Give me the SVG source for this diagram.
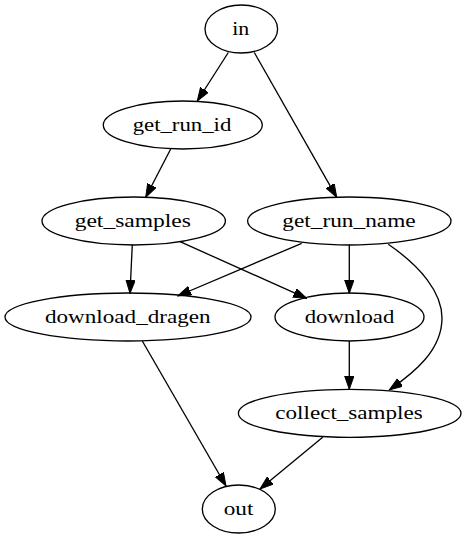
<svg xmlns="http://www.w3.org/2000/svg" width="466" height="539" viewBox="0 0 466 539">
<style>
.n ellipse{fill:none;stroke:#000;stroke-width:1.33}
.n text{font-family:'Liberation Serif','DejaVu Serif','Times New Roman',Times,serif;font-size:19px;text-anchor:middle;fill:#000}
.e path{fill:none;stroke:#000;stroke-width:1.33;marker-end:url(#ah)}
</style>
<defs>
<marker id="ah" markerUnits="userSpaceOnUse" markerWidth="14" markerHeight="10" refX="13.3" refY="4.67" orient="auto" viewBox="0 0 14 10">
<path d="M0,0 L13.3,4.67 L0,9.33 z" fill="#000" stroke="#000" stroke-width="1"/>
</marker>
</defs>
<rect width="466" height="539" fill="#fff"/>
<g id="edges" class="e">
<path d="M228.3,52.5 L197.3,101"/>
<path d="M254.3,52.5 L336.7,197.3"/>
<path d="M170.7,149 L145.7,197.3"/>
<path d="M132.3,244.5 L130,293.3"/>
<path d="M180,241.7 L306.7,298.3"/>
<path d="M301.7,243.3 L177.7,296"/>
<path d="M349.3,244.5 L349.3,293.3"/>
<path d="M388.3,244.3 C420,266 442,292 442,318 C442,350 415,372 389.3,390"/>
<path d="M349.3,341 L349.3,389.3"/>
<path d="M142.3,341 L226,486"/>
<path d="M322.7,437.3 L260,489"/>
</g>
<g id="in" class="n"><ellipse cx="241.3" cy="29" rx="36.3" ry="24"/><text x="240.8" y="35" textLength="17" lengthAdjust="spacingAndGlyphs">in</text></g>
<g id="get_run_id" class="n"><ellipse cx="182.8" cy="125" rx="79.5" ry="24"/><text x="182" y="131" textLength="98.7" lengthAdjust="spacingAndGlyphs">get_run_id</text></g>
<g id="get_samples" class="n"><ellipse cx="133.7" cy="221" rx="91.7" ry="24"/><text x="132.8" y="227" textLength="116.3" lengthAdjust="spacingAndGlyphs">get_samples</text></g>
<g id="get_run_name" class="n"><ellipse cx="349.3" cy="221" rx="101.7" ry="24"/><text x="349" y="227" textLength="133.3" lengthAdjust="spacingAndGlyphs">get_run_name</text></g>
<g id="download_dragen" class="n"><ellipse cx="128" cy="317" rx="123" ry="24"/><text x="127.8" y="323" textLength="165.7" lengthAdjust="spacingAndGlyphs">download_dragen</text></g>
<g id="download" class="n"><ellipse cx="349.5" cy="317" rx="74.5" ry="24"/><text x="349.5" y="323" textLength="89.7" lengthAdjust="spacingAndGlyphs">download</text></g>
<g id="collect_samples" class="n"><ellipse cx="349.7" cy="413.3" rx="111.3" ry="24"/><text x="349" y="419.3" textLength="147.3" lengthAdjust="spacingAndGlyphs">collect_samples</text></g>
<g id="out" class="n"><ellipse cx="238.8" cy="509" rx="36.5" ry="24"/><text x="238.5" y="515" textLength="29.7" lengthAdjust="spacingAndGlyphs">out</text></g>
</svg>
